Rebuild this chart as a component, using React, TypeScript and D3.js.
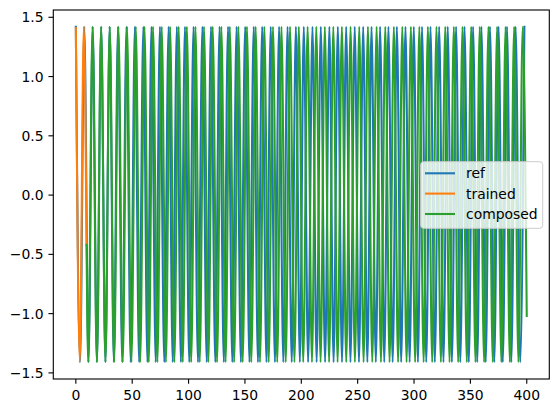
import React from "react";
import * as d3 from "d3";

// ---- data (extrema of the oscillating series) ----
const PEAK = 1.42;
const TROUGH = -1.41;

const refPeaks = [0, 7.5, 15.0, 22.5, 30.0, 37.4, 44.9, 52.4, 59.9, 67.1, 74.6, 82.3, 89.6, 96.8, 104.4, 112.3, 119.9, 127.5, 135.0, 142.6, 150.2, 157.8, 165.3, 172.9, 180.3, 187.8, 195.2, 202.2, 209.9, 217.3, 224.9, 232.4, 239.8, 247.4, 254.9, 262.3, 269.9, 277.3, 284.8, 292.4, 299.8, 307.1, 314.6, 322.3, 329.9, 337.3, 344.8, 352.4, 359.8, 367.4, 375.0, 382.5, 390.1, 397.9];
const refTroughs = [3.75, 11.25, 18.75, 26.25, 33.7, 41.15, 48.65, 56.15, 63.5, 70.85, 78.45, 85.95, 93.2, 100.6, 108.35, 116.1, 123.7, 131.25, 138.8, 146.4, 154.0, 161.55, 169.1, 176.6, 184.05, 191.5, 198.7, 206.05, 213.6, 221.1, 228.65, 236.1, 243.6, 251.15, 258.6, 266.1, 273.6, 281.05, 288.6, 296.1, 303.45, 310.85, 318.45, 326.1, 333.6, 341.05, 348.6, 356.1, 363.6, 371.2, 378.75, 386.3, 394.2];

const trainedX = [0, 3.5, 7.1, 9.5];
const trainedY = [1.41, -1.41, 1.42, -0.42];

const composedStart = { x: 9.5, y: -0.42 };
const composedEnd = { x: 400, y: -1.02 };
const composedPeaks = [14.8, 22.4, 30.1, 37.8, 45.4, 53.2, 60.9, 68.5, 76.2, 83.6, 91.2, 98.5, 106.1, 113.7, 121.4, 129.1, 136.6, 144.2, 151.8, 159.5, 167.2, 174.9, 182.4, 190.0, 197.8, 205.6, 213.3, 220.9, 228.4, 236.0, 243.7, 251.4, 259.1, 266.8, 274.5, 282.1, 289.6, 297.2, 304.7, 312.3, 319.9, 327.7, 335.3, 343.0, 350.7, 358.3, 366.0, 373.7, 381.2, 388.8, 396.4];
const composedTroughs = [11.0, 18.6, 26.25, 33.95, 41.6, 49.3, 57.05, 64.7, 72.35, 79.9, 87.4, 94.85, 102.3, 109.9, 117.55, 125.25, 132.85, 140.4, 148.0, 155.65, 163.35, 171.05, 178.65, 186.2, 193.9, 201.7, 209.45, 217.1, 224.65, 232.2, 239.85, 247.55, 255.25, 262.95, 270.65, 278.3, 285.85, 293.4, 300.95, 308.5, 316.1, 323.8, 331.5, 339.15, 346.85, 354.5, 362.15, 369.85, 377.45, 385.0, 392.6];

const xTicks = [0, 50, 100, 150, 200, 250, 300, 350, 400];
const yTicks = [-1.5, -1.0, -0.5, 0.0, 0.5, 1.0, 1.5];
const seriesNames = ["ref", "trained", "composed"];
const seriesColors = ["#1f77b4", "#ff7f0e", "#2ca02c"];

type P = { x: number; y: number };

function merge(peaks: number[], troughs: number[]): P[] {
  const pts: P[] = [
    ...peaks.map((x) => ({ x, y: PEAK })),
    ...troughs.map((x) => ({ x, y: TROUGH })),
  ];
  return pts.sort((a, b) => a.x - b.x);
}

const refData: P[] = merge(refPeaks, refTroughs);
const trainedData: P[] = trainedX.map((x, i) => ({ x, y: trainedY[i] }));
const composedData: P[] = [composedStart, ...merge(composedPeaks, composedTroughs), composedEnd];

export default function App() {
  const W = 559;
  const H = 413;
  const left = 53.3;
  const right = 549.3;
  const top = 10;
  const bottom = 379;

  const all = [...refData, ...trainedData, ...composedData];
  const xMin = d3.min(all, (d) => d.x)!;
  const xMax = d3.max(all, (d) => d.x)!;
  const yMin = d3.min(all, (d) => d.y)!;
  const yMax = d3.max(all, (d) => d.y)!;
  const xPad = (xMax - xMin) * 0.05;
  const yPad = (yMax - yMin) * 0.05;

  const x = d3.scaleLinear().domain([xMin - xPad, xMax + xPad]).range([left, right]);
  const y = d3.scaleLinear().domain([yMin - yPad, yMax + yPad]).range([bottom, top]);

  const line = d3
    .line<P>()
    .x((d) => x(d.x))
    .y((d) => y(d.y))
    .curve(d3.curveMonotoneX);

  const series = [refData, trainedData, composedData];
  const font = "'DejaVu Sans', sans-serif";
  const fs = 13.9;
  const tickLen = 4.86;
  const fmt = (v: number) => (v < 0 ? "\u2212" : "") + Math.abs(v).toFixed(1);

  const legX = 420.7;
  const legY = 161.7;
  const legW = 122;
  const legH = 66.6;
  const rowY = [173.3, 193.6, 214.0];

  return (
    <svg
      width={W}
      height={H}
      style={{ position: "fixed", left: 0, top: 0, background: "#fff" }}
      fontFamily={font}
    >
      <rect x={0} y={0} width={W} height={H} fill="#fff" />
      <defs>
        <clipPath id="plotclip">
          <rect x={left} y={top} width={right - left} height={bottom - top} />
        </clipPath>
      </defs>
      <g clipPath="url(#plotclip)">
        {series.map((d, i) => (
          <path
            key={i}
            d={line(d) || ""}
            fill="none"
            stroke={seriesColors[i]}
            strokeWidth={2.08}
            strokeLinejoin="round"
            strokeLinecap="square"
          />
        ))}
      </g>
      {/* frame */}
      <rect
        x={left}
        y={top}
        width={right - left}
        height={bottom - top}
        fill="none"
        stroke="#000"
        strokeWidth={1.11}
      />
      {/* x ticks */}
      {xTicks.map((t) => (
        <g key={"x" + t}>
          <line x1={x(t)} x2={x(t)} y1={bottom} y2={bottom + tickLen} stroke="#000" strokeWidth={1.11} />
          <text x={x(t)} y={399.6} textAnchor="middle" fontSize={fs} fill="#000">
            {t}
          </text>
        </g>
      ))}
      {/* y ticks */}
      {yTicks.map((t) => (
        <g key={"y" + t}>
          <line x1={left - tickLen} x2={left} y1={y(t)} y2={y(t)} stroke="#000" strokeWidth={1.11} />
          <text x={left - tickLen - 4.86} y={y(t) + 5.1} textAnchor="end" fontSize={fs} fill="#000">
            {fmt(t)}
          </text>
        </g>
      ))}
      {/* legend */}
      <rect
        x={legX}
        y={legY}
        width={legW}
        height={legH}
        rx={3}
        ry={3}
        fill="#fff"
        fillOpacity={0.8}
        stroke="#cccccc"
        strokeWidth={1}
      />
      {seriesNames.map((n, i) => (
        <g key={n}>
          <line x1={425} x2={455} y1={rowY[i]} y2={rowY[i]} stroke={seriesColors[i]} strokeWidth={2.08} />
          <text x={466} y={rowY[i] + 5} fontSize={fs} fill="#000">
            {n}
          </text>
        </g>
      ))}
    </svg>
  );
}
